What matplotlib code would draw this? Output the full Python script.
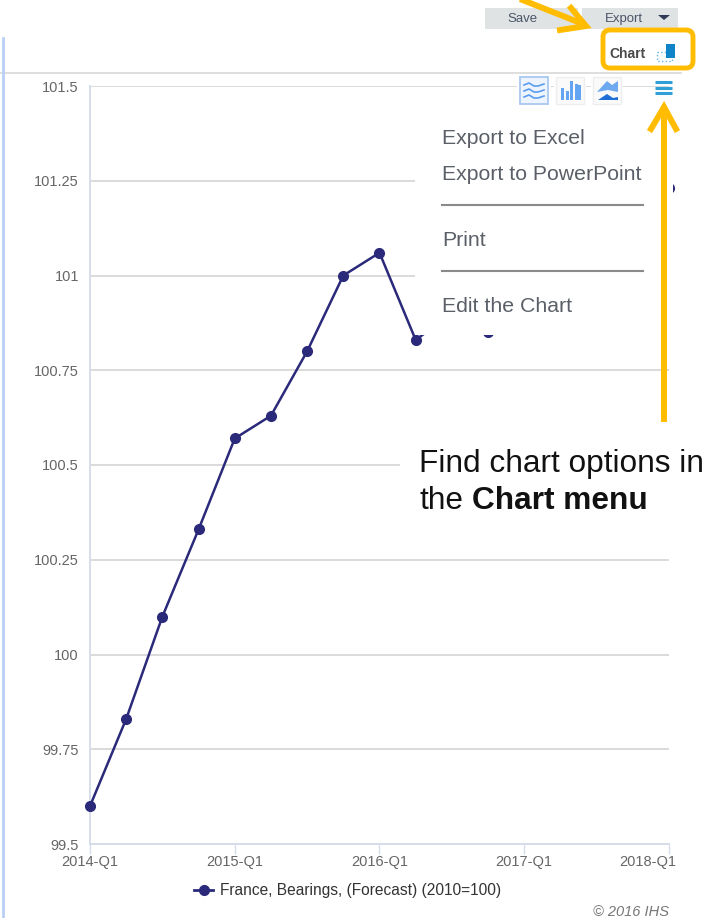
import matplotlib
matplotlib.use('Agg')
import matplotlib.pyplot as plt
from matplotlib.patches import Rectangle, FancyBboxPatch, Polygon
from matplotlib.transforms import ScaledTranslation

plt.rcParams['font.family'] = ['Liberation Sans', 'DejaVu Sans']

quarters = list(range(17))
# the values at positions 10 and 12-15 sit behind the menu, so they are estimates
values = [99.6, 99.83, 100.1, 100.33, 100.57, 100.63, 100.8, 101.0, 101.06, 100.83,
          100.9, 100.85, 100.95, 101.05, 101.12, 101.18, 101.23]
tick_pos = [0, 4, 8, 12, 16]
tick_labels = ['2014-Q1', '2015-Q1', '2016-Q1', '2017-Q1', '2018-Q1']
y_ticks = [99.5, 99.75, 100, 100.25, 100.5, 100.75, 101, 101.25, 101.5]
y_labels = ['99.5', '99.75', '100', '100.25', '100.5', '100.75', '101', '101.25', '101.5']
menu_items = ['Export to Excel', 'Export to PowerPoint', 'Print', 'Edit the Chart']
menu_y = [139, 175, 241, 307]
legend_label = 'France, Bearings, (Forecast) (2010=100)'

W, H = 713, 918
navy = '#2b2a7a'
gold = '#ffbc00'
grey_text = '#666666'

fig = plt.figure(figsize=(W / 100, H / 100), dpi=100)

# chart axes in pixel terms
ax = fig.add_axes([90 / W, 1 - 844 / H, 579 / W, 758 / H])
ax.plot(quarters, values, color=navy, lw=1.8, marker='o', ms=7, clip_on=False, zorder=3)
ax.set_xlim(0, 16)
ax.set_ylim(99.5, 101.5)
ax.set_xticks(tick_pos)
ax.set_xticklabels(tick_labels)
ax.set_yticks(y_ticks)
ax.set_yticklabels(y_labels)
ax.grid(axis='y', color='#d4d4d4', lw=1.2)
ax.set_axisbelow(True)
ax.tick_params(axis='x', length=7, width=1, color='#d5deea', labelsize=10.5,
               labelcolor=grey_text, pad=1)
ax.tick_params(axis='y', length=0, labelsize=10.5, labelcolor=grey_text, pad=8)
for s in ['top', 'right']:
    ax.spines[s].set_visible(False)
for s in ['left', 'bottom']:
    ax.spines[s].set_color('#d5deea')
    ax.spines[s].set_linewidth(1.4)

# last label is pushed left to stay inside the chart
last = ax.get_xticklabels()[-1]
last.set_transform(last.get_transform() + ScaledTranslation(-21 / 100, 0, fig.dpi_scale_trans))

# overlay for the screenshot furniture, in image pixels
ov = fig.add_axes([0, 0, 1, 1], zorder=5)
ov.set_xlim(0, W)
ov.set_ylim(H, 0)
ov.axis('off')
ov.patch.set_alpha(0)

# white boxes hiding part of the chart
ov.add_patch(Rectangle((415, 106), 258, 229, fc='white', ec='none'))
ov.add_patch(Rectangle((400, 440), 313, 80, fc='white', ec='none'))

# frame lines
ov.plot([0, 681], [72.5, 72.5], color='#d8d8d8', lw=1.2)
ov.plot([2.5, 2.5], [38, 918], color='#b9d0f5', lw=2)

# Save / Export buttons
ov.add_patch(Rectangle((485, 8), 93, 21, fc='#dfe3e4', ec='none'))
ov.add_patch(Rectangle((582, 8), 96, 21, fc='#dfe3e4', ec='none'))
ov.text(522, 19, 'Save', fontsize=9.5, color='#4a5568', ha='center', va='center')
ov.text(624, 19, 'Export', fontsize=9.5, color='#4a5568', ha='center', va='center')
ov.add_patch(Polygon([[658, 15], [670, 15], [664, 20]], fc='#2f3a55', ec='none'))

# Chart toggle
ov.add_patch(FancyBboxPatch((603, 30), 90, 38, boxstyle='round,pad=0,rounding_size=7',
                            fc='white', ec=gold, lw=3.5))
ov.text(628, 54, 'Chart', fontsize=10, color='#4a4a4a', fontweight='bold',
        ha='center', va='center')
ov.add_patch(Rectangle((657, 52), 15, 9, fc='none', ec='#62b5e5', lw=1, ls=':'))
ov.add_patch(Rectangle((666, 44), 9, 14, fc='#0f84c8', ec='none'))

# chart type icons
ov.add_patch(Rectangle((517, 75), 34, 31, fc='white', ec='none'))
ov.add_patch(Rectangle((520, 77), 28, 27, fc='#eef4fd', ec='#a9c8f2', lw=1.3))
for dy in (0, 6, 12):
    ov.plot([524, 529, 534, 538, 544], [85 + dy, 83 + dy, 86 + dy, 86 + dy, 84 + dy],
            color='#5a9df0', lw=1.2)
ov.add_patch(Rectangle((554, 75), 32, 31, fc='white', ec='none'))
ov.add_patch(Rectangle((556, 77), 28, 27, fc='#fafafa', ec='#eeeeee', lw=1))
for bx, bh in zip([561, 565.5, 570, 574.5, 578], [12, 9, 19, 16, 15]):
    ov.add_patch(Rectangle((bx, 100 - bh), 3.2, bh, fc='#63a5f2', ec='none'))
ov.add_patch(Rectangle((591, 75), 32, 31, fc='white', ec='none'))
ov.add_patch(Rectangle((593, 77), 28, 27, fc='#fafafa', ec='#eeeeee', lw=1))
ov.add_patch(Polygon([[597, 92], [607, 81], [612, 85], [618, 81], [618, 92], [608, 90]],
                     fc='#6ea9f0', ec='none'))
ov.add_patch(Polygon([[598, 100], [607, 94], [613, 98], [618, 97], [618, 100]],
                     fc='#1f6fd6', ec='none'))

# hamburger
for yy in (82, 87.5, 93):
    ov.plot([655, 672], [yy, yy], color='#2f9fd8', lw=2.2, solid_capstyle='butt')

# context menu
for label, yy in zip(menu_items, menu_y):
    ov.text(442, yy, label, fontsize=15.3, color='#5a5f68', ha='left', va='center')
for yy in (205, 271):
    ov.plot([442, 643], [yy, yy], color='#8a8a8a', lw=1.5)

# gold arrows
ov.plot([663.5, 663.5], [422, 108], color=gold, lw=4.3, solid_capstyle='butt')
ov.plot([651, 664, 676], [129, 107, 129], color=gold, lw=4.3, solid_joinstyle='miter')
ov.plot([515, 583], [-3, 24], color=gold, lw=4.3, solid_capstyle='butt')
ov.plot([571, 586, 560], [8, 26, 30], color=gold, lw=4.3, solid_joinstyle='miter')

# annotation
ov.text(419, 464, 'Find chart options in', fontsize=22.8, color='#111111', ha='left', va='center')
ov.text(419, 501, 'the', fontsize=22.8, color='#111111', ha='left', va='center')
ov.text(472, 501, 'Chart menu', fontsize=22.8, color='#111111', fontweight='bold',
        ha='left', va='center')

# legend and credit
ov.plot([194, 213], [890, 890], color=navy, lw=2)
ov.plot([204], [890], color=navy, marker='o', ms=7)
ov.text(220, 891, legend_label, fontsize=11.2, color='#333333', ha='left', va='center')
ov.text(669, 912, '\u00a9 2016 IHS', fontsize=10.5, color='#777777', style='italic',
        ha='right', va='center')

fig.savefig('out.png', dpi=100)
